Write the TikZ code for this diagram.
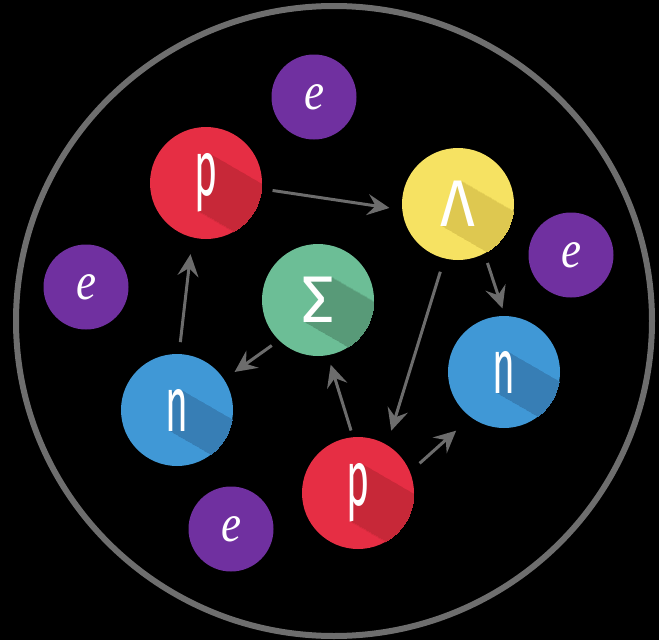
\documentclass[tikz,border=0pt]{standalone}
\usepackage{fontspec}
\usetikzlibrary{arrows.meta, calc}
\newfontfamily\glyphfont{Fira Sans}
\newfontfamily\electronfont{Liberation Serif}
\definecolor{Cp}{RGB}{230,46,68}
\definecolor{Cpsh}{RGB}{199,40,56}
\definecolor{Cn}{RGB}{64,152,214}
\definecolor{Cnsh}{RGB}{55,126,181}
\definecolor{Clam}{RGB}{246,226,98}
\definecolor{Clamsh}{RGB}{222,200,80}
\definecolor{Csig}{RGB}{108,190,150}
\definecolor{Csigsh}{RGB}{88,154,120}
\definecolor{Ce}{RGB}{112,48,160}
\definecolor{Carr}{RGB}{108,108,108}
\definecolor{Cring}{RGB}{110,110,110}
\tikzset{
  particle/.style={circle, minimum size=112pt, inner sep=0pt, outer sep=0pt},
  electron/.style={circle, fill=Ce, minimum size=85pt, inner sep=0pt, outer sep=0pt,
    text=white, font=\electronfont\itshape\fontsize{53}{53}\selectfont},
  lowglyph/.style={inner sep=0pt, font=\glyphfont\fontsize{78}{78}\selectfont},
  capglyph/.style={inner sep=0pt, font=\glyphfont\fontsize{66}{66}\selectfont},
  arr/.style={-{Stealth[length=22pt, width=21pt, inset=8pt]}, line width=3pt, draw=Carr},
  ring/.style={draw=Cring, line width=6pt},
}

\begin{document}
\begin{tikzpicture}[x=1pt, y=-1pt]

%% background and outer ring
\fill[black] (0,0) rectangle (659,640);
\useasboundingbox (0,0) rectangle (659,640);
\draw[ring] (334,321) ellipse (318 and 315);

%% electrons
\node[electron] (etop)   at (314,97)  {\scalebox{0.85}[1]{e}};
\node[electron] (eleft)  at (86,287)  {\scalebox{0.85}[1]{e}};
\node[electron] (eright) at (571,255) {\scalebox{0.85}[1]{e}};
\node[electron] (ebot)   at (231,529) {\scalebox{0.85}[1]{e}};

%% baryons, each with its long shadow
\node[particle, fill=Cp] (ptop) at (206,183) {};
\begin{scope}
  \clip (ptop.center) circle (56pt);
  \foreach \k in {2,4,...,116}
    \node[lowglyph, text=Cpsh] (ptop-sh\k) at ($(ptop)+(30:\k)$) {\scalebox{0.5}[1]{p}};
\end{scope}
\node[lowglyph, text=white] (ptop-l) at (ptop) {\scalebox{0.5}[1]{p}};

\node[particle, fill=Clam] (lam) at (458,204) {};
\begin{scope}
  \clip (lam.center) circle (56pt);
  \foreach \k in {2,4,...,116}
    \node[capglyph, text=Clamsh] (lam-sh\k) at ($(lam)+(30:\k)$) {\scalebox{0.92}[1]{Λ}};
\end{scope}
\node[capglyph, text=white] (lam-l) at (lam) {\scalebox{0.92}[1]{Λ}};

\node[particle, fill=Csig] (sig) at (318,300) {};
\begin{scope}
  \clip (sig.center) circle (56pt);
  \foreach \k in {2,4,...,116}
    \node[capglyph, text=Csigsh] (sig-sh\k) at ($(sig)+(30:\k)$) {Σ};
\end{scope}
\node[capglyph, text=white] (sig-l) at (sig) {Σ};

\node[particle, fill=Cn] (nleft) at (177,410) {};
\begin{scope}
  \clip (nleft.center) circle (56pt);
  \foreach \k in {2,4,...,116}
    \node[lowglyph, text=Cnsh] (nleft-sh\k) at ($(nleft)+(30:\k)$) {\scalebox{0.5}[1]{n}};
\end{scope}
\node[lowglyph, text=white] (nleft-l) at (nleft) {\scalebox{0.5}[1]{n}};

\node[particle, fill=Cn] (nright) at (504,372) {};
\begin{scope}
  \clip (nright.center) circle (56pt);
  \foreach \k in {2,4,...,116}
    \node[lowglyph, text=Cnsh] (nright-sh\k) at ($(nright)+(30:\k)$) {\scalebox{0.5}[1]{n}};
\end{scope}
\node[lowglyph, text=white] (nright-l) at (nright) {\scalebox{0.5}[1]{n}};

\node[particle, fill=Cp] (pbot) at (358,493) {};
\begin{scope}
  \clip (pbot.center) circle (56pt);
  \foreach \k in {2,4,...,116}
    \node[lowglyph, text=Cpsh] (pbot-sh\k) at ($(pbot)+(30:\k)$) {\scalebox{0.5}[1]{p}};
\end{scope}
\node[lowglyph, text=white] (pbot-l) at (pbot) {\scalebox{0.5}[1]{p}};

%% reactions
\draw[arr, shorten <=11pt, shorten >=13pt] (ptop.-6)    -- (lam.186);
\draw[arr, shorten <=12pt, shorten >=17pt] (nleft.88)   -- (ptop.-104);
\draw[arr, shorten <=9pt,  shorten >=13pt] (sig.226)    -- (nleft.33);
\draw[arr, shorten <=7pt,  shorten >=10pt] (pbot.95)    -- (sig.-80);
\draw[arr, shorten <=14pt, shorten >=15pt] (lam.-104)   -- (pbot.59);
\draw[arr, shorten <=10pt, shorten >=8pt]  (lam.-62)    -- (nright.89);
\draw[arr, shorten <=13pt, shorten >=20pt] (pbot.22)    -- (nright.234);

\end{tikzpicture}
\end{document}
